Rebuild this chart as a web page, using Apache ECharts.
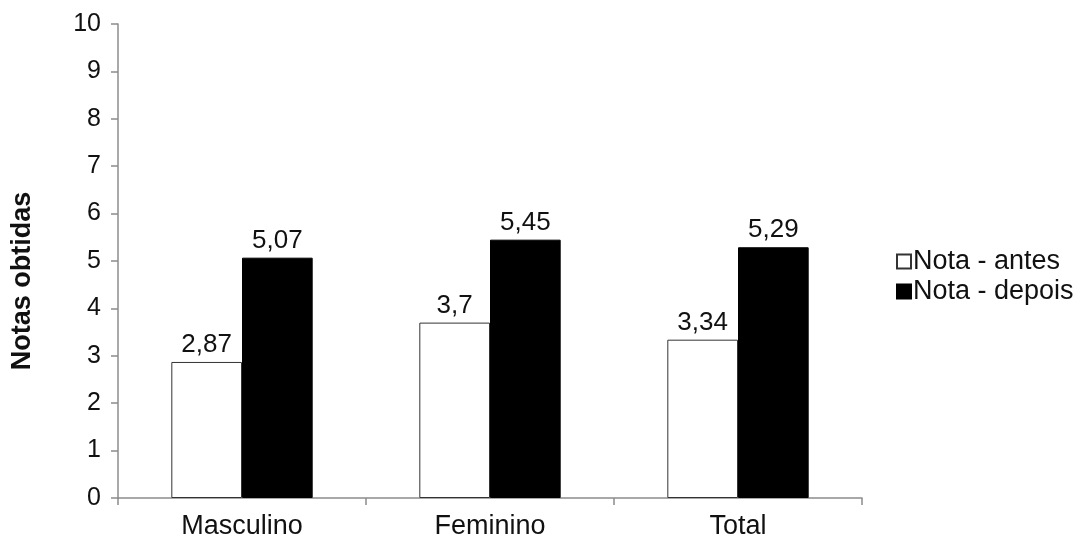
<!DOCTYPE html>
<html>
<head>
<meta charset="utf-8">
<script src="https://cdn.jsdelivr.net/npm/echarts@6/dist/echarts.min.js"></script>
<style>
  html, body { margin: 0; padding: 0; background: #fff; }
  #chart { width: 1085px; height: 540px; }
</style>
</head>
<body>
<div id="chart"></div>
<script>
const categories = ['Masculino', 'Feminino', 'Total'];
const notaAntes = [2.87, 3.7, 3.34];
const notaDepois = [5.07, 5.45, 5.29];
const seriesNames = ['Nota - antes', 'Nota - depois'];

const chart = echarts.init(document.getElementById('chart'));
const font = 'Liberation Sans, Arial, sans-serif';
const axisColor = '#8c8c8c';

// labels use a decimal comma
const fmt = (p) => String(p.value).replace('.', ',');

const option = {
    animation: false,
    textStyle: { fontFamily: font },
    grid: { left: 118, right: 223, top: 24, bottom: 42, containLabel: false, outerBoundsMode: 'none' },
    legend: {
        orient: 'vertical',
        left: 891,
        top: 243,
        itemWidth: 14,
        itemHeight: 14,
        itemGap: 3,
        icon: 'rect',
        textStyle: { fontSize: 27, color: '#111', fontFamily: font, padding: [0, 0, 0, -3] },
        data: seriesNames,
    },
    xAxis: {
        type: 'category',
        data: categories,
        axisLine: { lineStyle: { color: axisColor, width: 1.5 } },
        axisTick: { show: true, length: 7, lineStyle: { color: axisColor, width: 1.5 } },
        axisLabel: { fontSize: 27, color: '#111', margin: 15 },
    },
    yAxis: {
        type: 'value',
        min: 0,
        max: 10,
        interval: 1,
        name: 'Notas obtidas',
        nameLocation: 'middle',
        nameGap: 82,
        nameTextStyle: { fontSize: 27, fontWeight: 'bold', color: '#111', padding: [0, 40, 0, 0] },
        axisLine: { show: true, lineStyle: { color: axisColor, width: 1.5 } },
        axisTick: { show: true, length: 7, lineStyle: { color: axisColor, width: 1.5 } },
        axisLabel: { fontSize: 25, color: '#111', margin: 17 },
        splitLine: { show: false },
    },
    series: [
        {
            name: seriesNames[0],
            type: 'bar',
            data: notaAntes,
            barGap: '0%',
            barCategoryGap: '43%',
            itemStyle: { color: '#fff', borderColor: '#333', borderWidth: 1 },
            label: { show: true, position: 'top', fontSize: 26, color: '#111', distance: 4, formatter: fmt },
        },
        {
            name: seriesNames[1],
            type: 'bar',
            data: notaDepois,
            itemStyle: { color: '#000', borderColor: '#000', borderWidth: 1 },
            label: { show: true, position: 'top', fontSize: 26, color: '#111', distance: 4, formatter: fmt },
        },
    ],
};

chart.setOption(option);
</script>
</body>
</html>
